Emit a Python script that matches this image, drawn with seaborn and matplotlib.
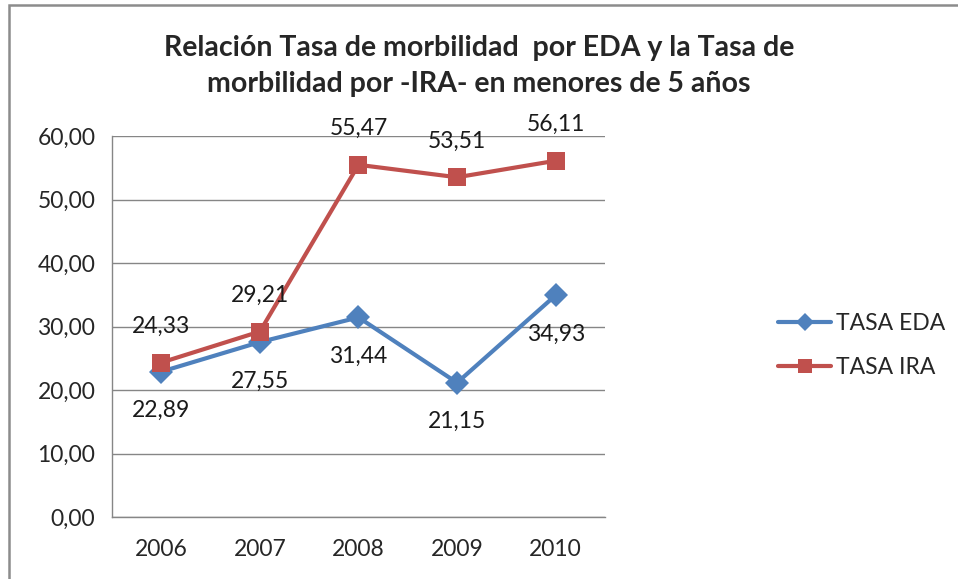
import pandas as pd
import matplotlib.pyplot as plt
import seaborn as sns
from matplotlib.patches import Rectangle

# Datos del gráfico
years = ["2006", "2007", "2008", "2009", "2010"]
tasa_eda = [22.89, 27.55, 31.44, 21.15, 34.93]
tasa_ira = [24.33, 29.21, 55.47, 53.51, 56.11]
series_names = ["TASA EDA", "TASA IRA"]

df = pd.DataFrame({
    "year": years * 2,
    "valor": tasa_eda + tasa_ira,
    "serie": [series_names[0]] * len(years) + [series_names[1]] * len(years),
})

sns.set_style("white")
plt.rcParams["font.family"] = ["Lato", "DejaVu Sans"]

fig = plt.figure(figsize=(9.58, 5.79), dpi=100)
ax = fig.add_axes([0.1169, 0.1071, 0.6315 - 0.1169, 0.765 - 0.1071])

palette = {"TASA EDA": "#4F81BD", "TASA IRA": "#C0504D"}
markers = {"TASA EDA": "D", "TASA IRA": "s"}
sns.lineplot(data=df, x="year", y="valor", hue="serie", style="serie",
             palette=palette, markers=markers, dashes=False, linewidth=3,
             markersize=12, markeredgewidth=0, ax=ax, legend=True)

fs = 16.5
# etiquetas de datos
for i, y in enumerate(years):
    ax.annotate(f"{tasa_eda[i]:.2f}".replace(".", ","), (i, tasa_eda[i]),
                xytext=(0, -28), textcoords="offset points",
                ha="center", va="center", fontsize=fs, color="#1a1a1a")
    ax.annotate(f"{tasa_ira[i]:.2f}".replace(".", ","), (i, tasa_ira[i]),
                xytext=(0, 26), textcoords="offset points",
                ha="center", va="center", fontsize=fs, color="#1a1a1a")

ax.set_ylim(0, 60)
ax.set_xlim(-0.5, 4.5)
ax.set_yticks(range(0, 61, 10))
ax.set_yticklabels([f"{v:.2f}".replace(".", ",") for v in range(0, 61, 10)])
ax.set_xticks(range(len(years)))
ax.set_xticks([i - 0.5 for i in range(len(years) + 1)], minor=True)
ax.tick_params(axis="x", which="major", length=0, pad=16, labelsize=fs)
ax.tick_params(axis="x", which="minor", length=6, color="#868686", width=1)
ax.tick_params(axis="y", length=6, color="#868686", width=1, pad=6, labelsize=fs)
ax.yaxis.grid(True, color="#868686", linewidth=1)
ax.set_axisbelow(True)
ax.set_xlabel("")
ax.set_ylabel("")
for s in ["top", "right"]:
    ax.spines[s].set_visible(False)
for s in ["left", "bottom"]:
    ax.spines[s].set_color("#868686")
    ax.spines[s].set_linewidth(1)

# cuadrado un poco más grande que el rombo
for line in ax.lines:
    if line.get_marker() == "s":
        line.set_markersize(13)

leg = ax.legend(title=None, frameon=False, loc="center left",
                bbox_to_anchor=(1.31, 0.45), fontsize=fs, handlelength=2.3,
                handletextpad=0.2, labelspacing=1.0, markerscale=0.8)

fig.text(0.5, 0.886,
         "Relación Tasa de morbilidad  por EDA y la Tasa de\nmorbilidad por -IRA- en menores de 5 años",
         ha="center", va="center", fontsize=20.5, fontweight="bold", linespacing=1.5)

# borde del área del gráfico
fig.patches.append(Rectangle((9 / 958, -0.02), 1.0, (579 - 5) / 579 + 0.02,
                             transform=fig.transFigure, fill=False,
                             edgecolor="#8c8c8c", linewidth=1.8))

fig.savefig("out.png", dpi=100)
